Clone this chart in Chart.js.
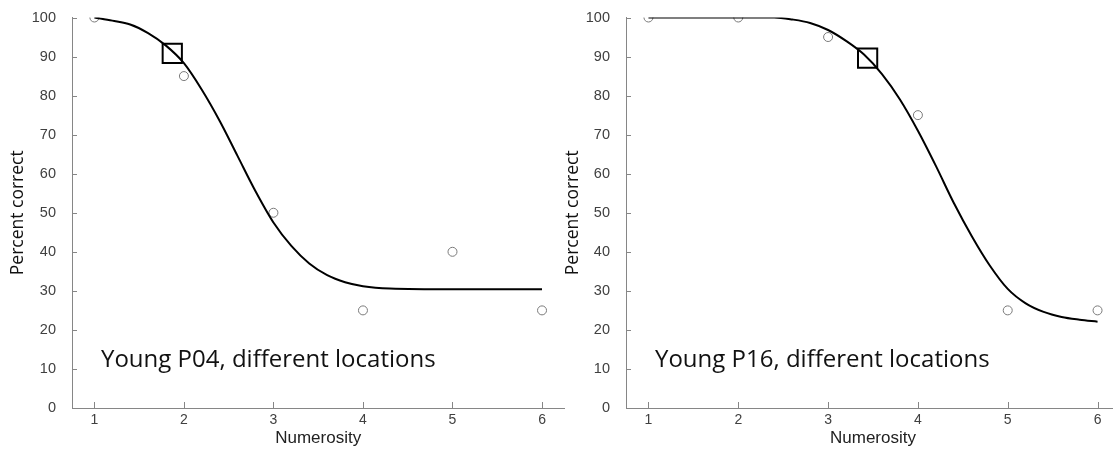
<!DOCTYPE html>
<html>
<head>
<meta charset="utf-8">
<script src="https://cdn.jsdelivr.net/npm/chart.js@4.4.1/dist/chart.umd.min.js"></script>
<style>
  html, body { margin: 0; padding: 0; background: #fff; overflow: hidden; }
  body { width: 1113px; height: 455px; position: relative; }
  .panel { position: absolute; top: 0; width: 580px; height: 455px; }
  #left { left: 0; }
  #right { left: 560px; }
</style>
</head>
<body>
<div class="panel" id="left"><canvas id="chartLeft" width="580" height="455"></canvas></div>
<div class="panel" id="right"><canvas id="chartRight" width="580" height="455"></canvas></div>
<script>
// tick labels
const xTickValues = [1, 2, 3, 4, 5, 6];
const yTickValues = [0, 10, 20, 30, 40, 50, 60, 70, 80, 90, 100];

// P04 - observed proportions
const p04X = [1, 2, 3, 4, 5, 6];
const p04Y = [100, 85, 50, 25, 40, 25];
// P04 - fitted curve
const p04CurveX = [1.0, 1.2, 1.4, 1.6, 1.8, 2.0, 2.2, 2.4, 2.6, 2.8, 3.0, 3.2, 3.4, 3.6, 3.8, 4.0, 4.3, 5.0, 6.0];
const p04CurveY = [100, 99.2, 98.2, 96, 92.8, 88.3, 81.5, 73.5, 64.5, 55.5, 47.5, 41.5, 37, 34, 32.2, 31.2, 30.6, 30.4, 30.4];
// P04 - threshold marker
const p04Threshold = [1.87, 90.8];

// P16 - observed proportions
const p16X = [1, 2, 3, 4, 5, 6];
const p16Y = [100, 100, 95, 75, 25, 25];
// P16 - fitted curve
const p16CurveX = [1.0, 2.4, 2.6, 2.8, 3.0, 3.2, 3.4, 3.6, 3.8, 4.0, 4.2, 4.4, 4.6, 4.8, 5.0, 5.2, 5.4, 5.6, 5.8, 6.0];
const p16CurveY = [100, 100, 99.5, 98.6, 96.8, 94, 90.5, 85.5, 79, 71, 62, 52.5, 44, 36.5, 30.5, 26.8, 24.6, 23.3, 22.6, 22.1];
// P16 - threshold marker
const p16Threshold = [3.44, 89.6];

const panelLabels = ["Young P04, different locations", "Young P16, different locations"];

const axisGray = "#868686";
const tickText = "#404040";

function toPoints(xs, ys) {
    return xs.map((x, i) => ({ x: x, y: ys[i] }));
}

// both axes have their tick marks pointing into the plot, so draw them here
const innerTicks = {
    id: "innerTicks",
    afterDraw(chart) {
        const { x: xs, y: ys } = chart.scales;
        const area = chart.chartArea;
        const ctx = chart.ctx;
        ctx.save();
        ctx.strokeStyle = axisGray;
        ctx.lineWidth = 1;
        xTickValues.forEach((v) => {
            const px = Math.round(xs.getPixelForValue(v)) + 0.5;
            ctx.beginPath();
            ctx.moveTo(px, area.bottom);
            ctx.lineTo(px, area.bottom - 6);
            ctx.stroke();
        });
        yTickValues.forEach((v) => {
            const py = Math.round(ys.getPixelForValue(v)) + 0.5;
            ctx.beginPath();
            ctx.moveTo(area.left, py);
            ctx.lineTo(area.left + 5, py);
            ctx.stroke();
        });
        ctx.restore();
    }
};

const panelLabel = {
    id: "panelLabel",
    afterDraw(chart, args, opts) {
        const ctx = chart.ctx;
        ctx.save();
        ctx.font = '24px "Open Sans"';
        ctx.fillStyle = "#111";
        ctx.textBaseline = "middle";
        ctx.fillText(opts.text, chart.chartArea.left + opts.dx, chart.scales.y.getPixelForValue(12.2));
        ctx.restore();
    }
};

function makeChart(canvasId, obsX, obsY, curveX, curveY, threshold, label, yWidth, padRight, titlePad, labelDx) {
    return new Chart(document.getElementById(canvasId), {
        data: {
            datasets: [
                {
                    type: "scatter",
                    data: [{ x: threshold[0], y: threshold[1] }],
                    pointStyle: "rect",
                    pointRadius: 13.6,
                    borderColor: "#000",
                    borderWidth: 2,
                    backgroundColor: "transparent",
                },
                {
                    type: "line",
                    data: toPoints(curveX, curveY),
                    borderColor: "#000",
                    borderWidth: 2,
                    pointRadius: 0,
                    cubicInterpolationMode: "monotone",
                    fill: false,
                },
                {
                    type: "scatter",
                    data: toPoints(obsX, obsY),
                    pointStyle: "circle",
                    pointRadius: 4.5,
                    borderColor: "#7a7a7a",
                    borderWidth: 1,
                    backgroundColor: "#fff",
                },
            ]
        },
        options: {
            responsive: false,
            animation: false,
            layout: { padding: { top: 17.5, right: padRight, left: 0, bottom: 0 } },
            plugins: {
                legend: { display: false },
                tooltip: { enabled: false },
                panelLabel: { text: label, dx: labelDx },
            },
            scales: {
                x: {
                    type: "linear",
                    min: 0.75,
                    max: 6.25,
                    afterBuildTicks: (scale) => { scale.ticks = xTickValues.map((v) => ({ value: v })); },
                    afterFit: (scale) => { scale.height = 47; },
                    grid: { display: false, drawTicks: false },
                    border: { display: true, color: axisGray, width: 1 },
                    ticks: {
                        padding: 4,
                        color: tickText,
                        font: { family: "Liberation Sans", size: 14 },
                    },
                    title: {
                        display: true,
                        text: "Numerosity",
                        color: "#222",
                        font: { family: "Liberation Sans", size: 17 },
                        padding: { top: 0, bottom: 6 },
                    },
                },
                y: {
                    type: "linear",
                    min: 0,
                    max: 100,
                    afterBuildTicks: (scale) => { scale.ticks = yTickValues.map((v) => ({ value: v })); },
                    afterFit: (scale) => { scale.width = yWidth; },
                    // invisible outer tick marks only to push the labels away from the axis
                    grid: { display: true, drawOnChartArea: false, drawTicks: true, tickLength: 12, color: "transparent" },
                    border: { display: true, color: axisGray, width: 1 },
                    ticks: {
                        padding: 4,
                        color: tickText,
                        font: { family: "Liberation Sans", size: 14.5 },
                    },
                    title: {
                        display: true,
                        text: "Percent correct",
                        color: "#111",
                        font: { family: "Open Sans", size: 17.5 },
                        padding: { top: titlePad, bottom: 0 },
                    },
                },
            },
        },
        plugins: [innerTicks, panelLabel],
    });
}

makeChart("chartLeft", p04X, p04Y, p04CurveX, p04CurveY, p04Threshold, panelLabels[0], 72, 13, 8, 29);
makeChart("chartRight", p16X, p16Y, p16CurveX, p16CurveY, p16Threshold, panelLabels[1], 66, 20, 3, 29);
</script>
</body>
</html>
